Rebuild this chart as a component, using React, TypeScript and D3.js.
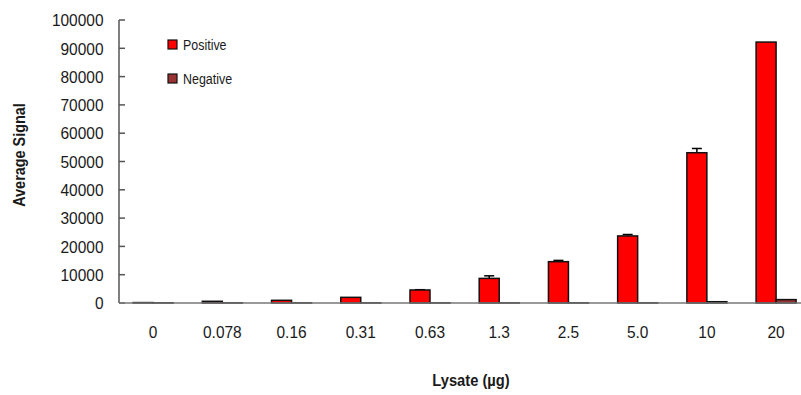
import { useMemo } from 'react';
import * as d3 from 'd3';

const categories = ['0', '0.078', '0.16', '0.31', '0.63', '1.3', '2.5', '5.0', '10', '20'];
const positive = [150, 600, 950, 2000, 4600, 8700, 14600, 23700, 53100, 92200];
const positiveErr = [0, 0, 0, 0, 100, 900, 450, 500, 1500, 0];
const negative = [80, 60, 60, 60, 60, 60, 60, 60, 450, 1200];
const yTicks = [0, 10000, 20000, 30000, 40000, 50000, 60000, 70000, 80000, 90000, 100000];
const seriesNames = ['Positive', 'Negative'];
const seriesColors = ['#ff0000', '#993333'];

const FONT = '"Liberation Sans", Arial, sans-serif';

// narrow-ish text: the reference uses a condensed face
function NText({ x, y, sx = 0.91, size = 17, anchor = 'start', weight = 'normal', rotate = 0, children }: any) {
  return (
    <g transform={`translate(${x},${y}) rotate(${rotate}) scale(${sx},1)`}>
      <text textAnchor={anchor} fontSize={size} fontWeight={weight} fill="#1a1a1a">{children}</text>
    </g>
  );
}

export default function App() {
  const width = 801;
  const height = 395;

  const x = useMemo(() => d3.scaleBand<string>().domain(categories).range([118.5, 810.7]), []);
  const y = useMemo(() => d3.scaleLinear().domain([0, 100000]).range([303, 20]), []);
  const barW = 20;

  return (
    <svg width={width} height={height} style={{ position: 'absolute', left: 0, top: 0, background: '#fff' }}
      fontFamily={FONT}>
      {/* bars */}
      {categories.map((c, i) => {
        const cx = (x(c) ?? 0) + x.bandwidth() / 2;
        const pTop = y(positive[i]);
        const nTop = y(negative[i]);
        const eTop = y(positive[i] + positiveErr[i]);
        return (
          <g key={c}>
            {positiveErr[i] > 0 && (
              <g stroke="#000" strokeWidth={1.5}>
                <line x1={cx - barW / 2} x2={cx - barW / 2} y1={pTop} y2={eTop} />
                <line x1={cx - barW / 2 - 5} x2={cx - barW / 2 + 5} y1={eTop} y2={eTop} />
              </g>
            )}
            <rect x={cx - barW} y={pTop} width={barW} height={y(0) - pTop}
              fill={seriesColors[0]} stroke="#111" strokeWidth={1.5} />
            <rect x={cx} y={nTop} width={barW} height={y(0) - nTop}
              fill={seriesColors[1]} stroke="#111" strokeWidth={1.5} />
          </g>
        );
      })}

      {/* y axis */}
      <line x1={119} x2={119} y1={y(100000)} y2={y(0)} stroke="#555" strokeWidth={1.5} />
      {yTicks.map(t => (
        <g key={t}>
          <line x1={119} x2={125} y1={y(t)} y2={y(t)} stroke="#555" strokeWidth={1.5} />
          <NText x={103.5} y={y(t) + 6.2} anchor="end">{t}</NText>
        </g>
      ))}

      {/* x axis */}
      <line x1={119} x2={width} y1={y(0)} y2={y(0)} stroke="#777" strokeWidth={1.5} />
      {categories.map(c => (
        <NText key={c} x={(x(c) ?? 0) + x.bandwidth() / 2} y={337.5} anchor="middle">{c}</NText>
      ))}

      {/* titles */}
      <NText x={471} y={386} anchor="middle" weight="bold" size={16} sx={0.92}>Lysate (µg)</NText>
      <NText x={24.5} y={155} anchor="middle" weight="bold" size={16} sx={0.9} rotate={-90}>Average Signal</NText>

      {/* legend */}
      {seriesNames.map((n, i) => (
        <g key={n}>
          <rect x={168} y={40 + i * 34} width={9} height={9} fill={seriesColors[i]} stroke="#111" strokeWidth={1.2} />
          <NText x={183} y={40 + i * 34 + 9.5} size={15} sx={0.83}>{n}</NText>
        </g>
      ))}
    </svg>
  );
}
